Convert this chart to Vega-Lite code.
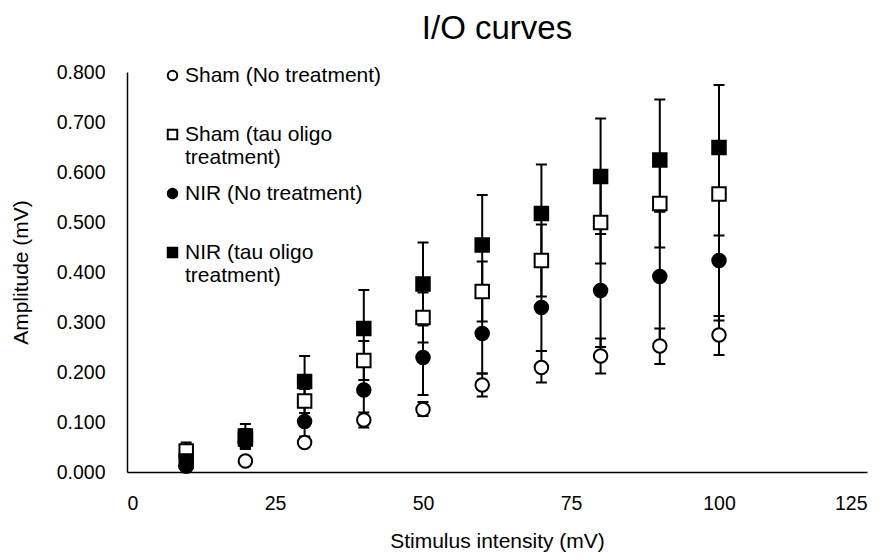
{
  "$schema": "https://vega.github.io/schema/vega-lite/v6.json",
  "autosize": "none",
  "width": 740,
  "height": 400,
  "padding": {"left": 127, "top": 72, "right": 19, "bottom": 87},
  "background": "white",
  "title": {"text": "I/O curves", "fontSize": 33, "font": "Liberation Sans", "fontWeight": "normal", "color": "black", "anchor": "middle", "offset": 16},
  "config": {
    "view": {"stroke": null},
    "font": "Liberation Sans",
    "axis": {"grid": false, "ticks": false, "domainColor": "black", "domainWidth": 1.5, "labelColor": "black", "labelFont": "Liberation Sans", "labelFontSize": 19.5, "titleColor": "black", "titleFont": "Liberation Sans", "titleFontSize": 21, "titleFontWeight": "normal"},
    "legend": {"orient": "none", "legendX": 35, "legendY": -7, "padding": 0, "gridAlign": "all", "rowPadding": 14, "labelFont": "Liberation Sans", "labelFontSize": 21, "labelColor": "black", "labelLimit": 400, "labelOffset": 2, "symbolStrokeColor": "black", "symbolStrokeWidth": 2, "symbolSize": 90}
  },
  "data": {"values": [
    {"series": "Sham (No treatment)", "x": 10, "amp": 0.012, "lo": 0.006, "hi": 0.018},
    {"series": "Sham (No treatment)", "x": 20, "amp": 0.022, "lo": 0.016, "hi": 0.028},
    {"series": "Sham (No treatment)", "x": 30, "amp": 0.059, "lo": 0.050, "hi": 0.068},
    {"series": "Sham (No treatment)", "x": 40, "amp": 0.104, "lo": 0.089, "hi": 0.119},
    {"series": "Sham (No treatment)", "x": 50, "amp": 0.125, "lo": 0.112, "hi": 0.140},
    {"series": "Sham (No treatment)", "x": 60, "amp": 0.174, "lo": 0.151, "hi": 0.197},
    {"series": "Sham (No treatment)", "x": 70, "amp": 0.209, "lo": 0.179, "hi": 0.242},
    {"series": "Sham (No treatment)", "x": 80, "amp": 0.232, "lo": 0.197, "hi": 0.267},
    {"series": "Sham (No treatment)", "x": 90, "amp": 0.252, "lo": 0.216, "hi": 0.287},
    {"series": "Sham (No treatment)", "x": 100, "amp": 0.274, "lo": 0.234, "hi": 0.312},
    {"series": "Sham (tau oligo treatment)", "x": 10, "amp": 0.042, "lo": 0.025, "hi": 0.059},
    {"series": "Sham (tau oligo treatment)", "x": 20, "amp": 0.066, "lo": 0.046, "hi": 0.086},
    {"series": "Sham (tau oligo treatment)", "x": 30, "amp": 0.142, "lo": 0.118, "hi": 0.166},
    {"series": "Sham (tau oligo treatment)", "x": 40, "amp": 0.223, "lo": 0.184, "hi": 0.262},
    {"series": "Sham (tau oligo treatment)", "x": 50, "amp": 0.309, "lo": 0.259, "hi": 0.359},
    {"series": "Sham (tau oligo treatment)", "x": 60, "amp": 0.361, "lo": 0.301, "hi": 0.421},
    {"series": "Sham (tau oligo treatment)", "x": 70, "amp": 0.423, "lo": 0.351, "hi": 0.495},
    {"series": "Sham (tau oligo treatment)", "x": 80, "amp": 0.499, "lo": 0.417, "hi": 0.581},
    {"series": "Sham (tau oligo treatment)", "x": 90, "amp": 0.537, "lo": 0.449, "hi": 0.625},
    {"series": "Sham (tau oligo treatment)", "x": 100, "amp": 0.556, "lo": 0.473, "hi": 0.639},
    {"series": "NIR (No treatment)", "x": 10, "amp": 0.012, "lo": 0.004, "hi": 0.020},
    {"series": "NIR (No treatment)", "x": 20, "amp": 0.060, "lo": 0.047, "hi": 0.073},
    {"series": "NIR (No treatment)", "x": 30, "amp": 0.101, "lo": 0.071, "hi": 0.131},
    {"series": "NIR (No treatment)", "x": 40, "amp": 0.164, "lo": 0.104, "hi": 0.224},
    {"series": "NIR (No treatment)", "x": 50, "amp": 0.229, "lo": 0.154, "hi": 0.304},
    {"series": "NIR (No treatment)", "x": 60, "amp": 0.277, "lo": 0.197, "hi": 0.357},
    {"series": "NIR (No treatment)", "x": 70, "amp": 0.329, "lo": 0.242, "hi": 0.416},
    {"series": "NIR (No treatment)", "x": 80, "amp": 0.363, "lo": 0.250, "hi": 0.476},
    {"series": "NIR (No treatment)", "x": 90, "amp": 0.391, "lo": 0.261, "hi": 0.521},
    {"series": "NIR (No treatment)", "x": 100, "amp": 0.423, "lo": 0.303, "hi": 0.544},
    {"series": "NIR (tau oligo treatment)", "x": 10, "amp": 0.022, "lo": 0.012, "hi": 0.032},
    {"series": "NIR (tau oligo treatment)", "x": 20, "amp": 0.072, "lo": 0.048, "hi": 0.096},
    {"series": "NIR (tau oligo treatment)", "x": 30, "amp": 0.181, "lo": 0.130, "hi": 0.232},
    {"series": "NIR (tau oligo treatment)", "x": 40, "amp": 0.287, "lo": 0.210, "hi": 0.364},
    {"series": "NIR (tau oligo treatment)", "x": 50, "amp": 0.376, "lo": 0.293, "hi": 0.459},
    {"series": "NIR (tau oligo treatment)", "x": 60, "amp": 0.454, "lo": 0.354, "hi": 0.554},
    {"series": "NIR (tau oligo treatment)", "x": 70, "amp": 0.517, "lo": 0.419, "hi": 0.615},
    {"series": "NIR (tau oligo treatment)", "x": 80, "amp": 0.591, "lo": 0.476, "hi": 0.707},
    {"series": "NIR (tau oligo treatment)", "x": 90, "amp": 0.624, "lo": 0.521, "hi": 0.745},
    {"series": "NIR (tau oligo treatment)", "x": 100, "amp": 0.649, "lo": 0.544, "hi": 0.774}
  ]},
  "encoding": {
    "x": {"field": "x", "type": "quantitative", "scale": {"domain": [0, 125], "nice": false, "zero": false}, "axis": {"values": [0, 25, 50, 75, 100, 125], "title": "Stimulus intensity (mV)", "labelPadding": 22, "titlePadding": 18}}
  },
  "layer": [
    {
      "mark": {"type": "rule", "color": "black", "strokeWidth": 2},
      "encoding": {
        "y": {"field": "lo", "type": "quantitative", "scale": {"domain": [0, 0.8], "nice": false}, "axis": {"values": [0, 0.1, 0.2, 0.3, 0.4, 0.5, 0.6, 0.7, 0.8], "format": ".3f", "title": "Amplitude (mV)", "labelPadding": 22, "titlePadding": 25}},
        "y2": {"field": "hi"}
      }
    },
    {
      "mark": {"type": "tick", "orient": "horizontal", "color": "black", "thickness": 2, "size": 11, "opacity": 1},
      "encoding": {"y": {"field": "lo", "type": "quantitative"}}
    },
    {
      "mark": {"type": "tick", "orient": "horizontal", "color": "black", "thickness": 2, "size": 11, "opacity": 1},
      "encoding": {"y": {"field": "hi", "type": "quantitative"}}
    },
    {
      "mark": {"type": "point", "filled": true, "strokeWidth": 2, "size": 182, "opacity": 1, "fillOpacity": 1, "strokeOpacity": 1},
      "encoding": {
        "y": {"field": "amp", "type": "quantitative"},
        "shape": {"field": "series", "type": "nominal", "title": null,
          "scale": {"domain": ["Sham (No treatment)", "Sham (tau oligo treatment)", "NIR (No treatment)", "NIR (tau oligo treatment)"], "range": ["M-1,0A1,1 0 1,0 1,0A1,1 0 1,0 -1,0Z", "square", "M-1,0A1,1 0 1,0 1,0A1,1 0 1,0 -1,0Z", "square"]},
          "legend": {"labelExpr": "datum.label == 'Sham (tau oligo treatment)' ? ['Sham (tau oligo', 'treatment)'] : datum.label == 'NIR (tau oligo treatment)' ? ['NIR (tau oligo', 'treatment)'] : datum.label",
            "encode": {"symbols": {"strokeWidth": {"value": 2}}}}},
        "fill": {"field": "series", "type": "nominal", "title": null,
          "scale": {"domain": ["Sham (No treatment)", "Sham (tau oligo treatment)", "NIR (No treatment)", "NIR (tau oligo treatment)"], "range": ["white", "white", "black", "black"]},
          "legend": {"labelExpr": "datum.label == 'Sham (tau oligo treatment)' ? ['Sham (tau oligo', 'treatment)'] : datum.label == 'NIR (tau oligo treatment)' ? ['NIR (tau oligo', 'treatment)'] : datum.label",
            "encode": {"symbols": {"strokeWidth": {"value": 2}}}}},
        "stroke": {"field": "series", "type": "nominal", "title": null,
          "scale": {"domain": ["Sham (No treatment)", "Sham (tau oligo treatment)", "NIR (No treatment)", "NIR (tau oligo treatment)"], "range": ["black", "black", "black", "black"]},
          "legend": {"labelExpr": "datum.label == 'Sham (tau oligo treatment)' ? ['Sham (tau oligo', 'treatment)'] : datum.label == 'NIR (tau oligo treatment)' ? ['NIR (tau oligo', 'treatment)'] : datum.label",
            "encode": {"symbols": {"strokeWidth": {"value": 2}}}}}
      }
    }
  ]
}
